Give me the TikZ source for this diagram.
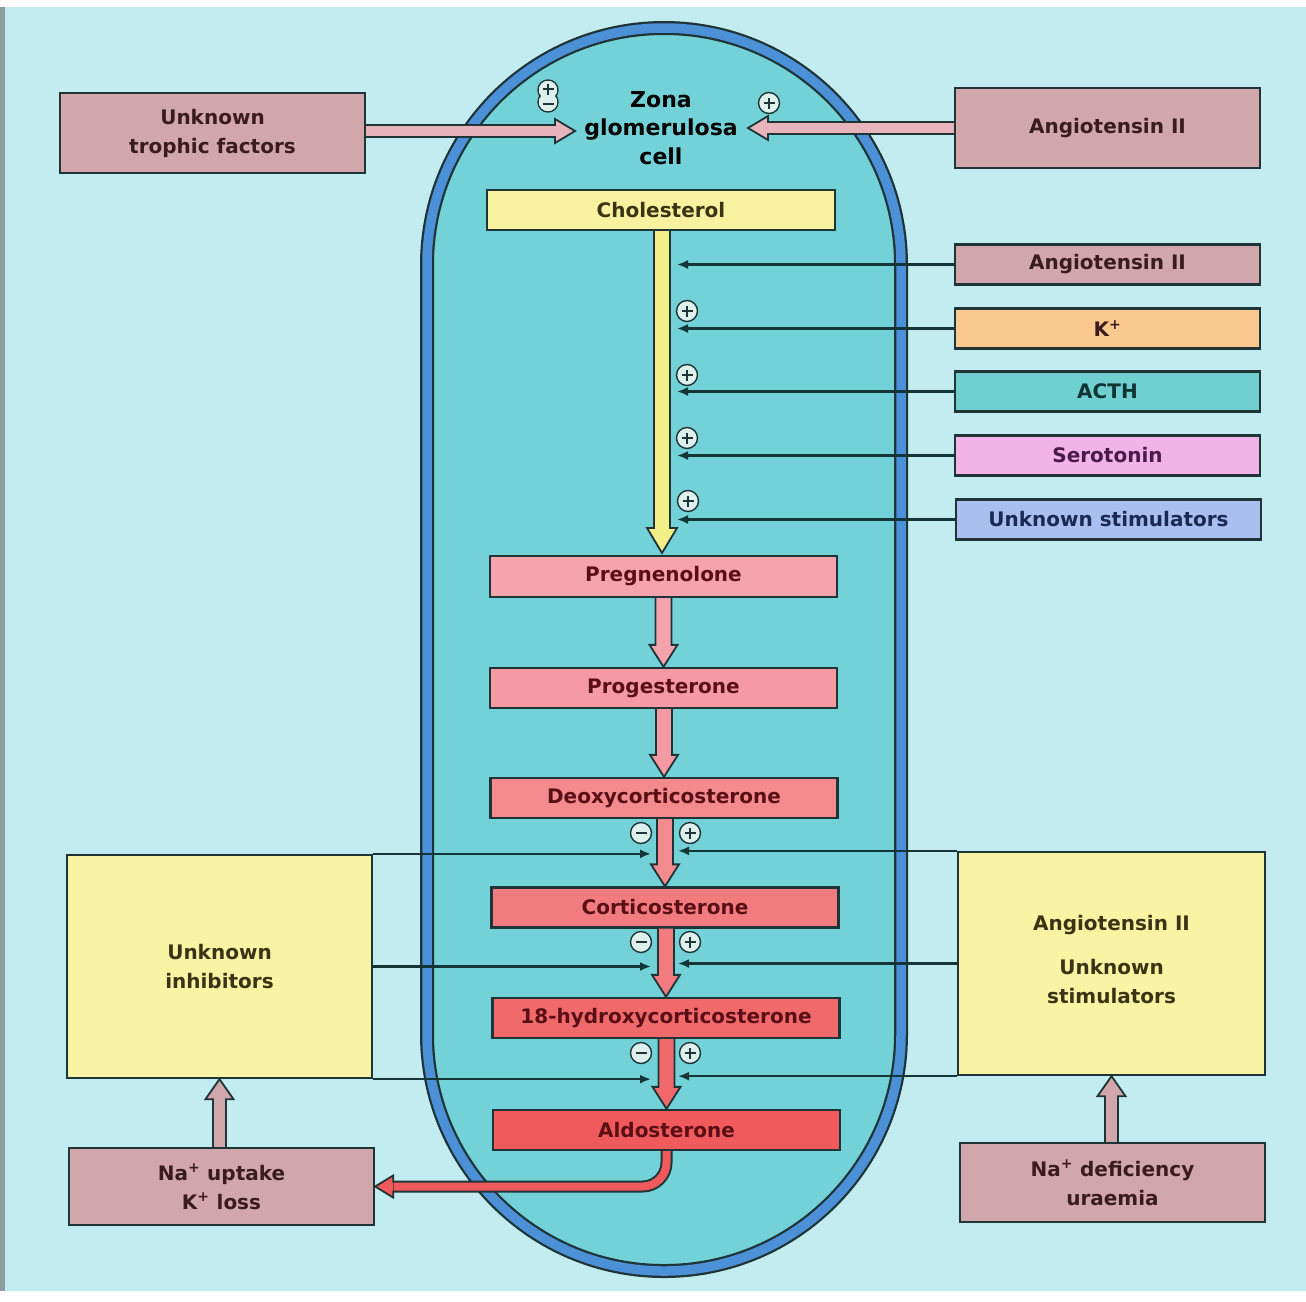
\documentclass[tikz,border=0pt]{standalone}
\usepackage{fontspec}
\setmainfont{DejaVu Sans}
\usetikzlibrary{arrows.meta,calc}

\definecolor{bgc}{HTML}{C2ECF0}
\definecolor{stripc}{HTML}{8E9C9E}
\definecolor{cellc}{HTML}{72D2D7}
\definecolor{membc}{HTML}{4C90D8}
\definecolor{edgec}{HTML}{1E3436}
\definecolor{linec}{HTML}{143636}
\definecolor{signc}{HTML}{DDF0EE}
\definecolor{mauve}{HTML}{D2A7AB}
\definecolor{paleyel}{HTML}{F8F4A4}
\definecolor{cholc}{HTML}{F8F2A0}
\definecolor{yelar}{HTML}{F2EE88}
\definecolor{topar}{HTML}{E8B4BC}
\definecolor{kc}{HTML}{F9C98F}
\definecolor{acthc}{HTML}{6FD0CF}
\definecolor{serc}{HTML}{F2B3E6}
\definecolor{ustc}{HTML}{A9BFF0}
\definecolor{sa}{HTML}{F5A3AC}
\definecolor{sb}{HTML}{F59AA2}
\definecolor{sc}{HTML}{F28A8E}
\definecolor{sd}{HTML}{F17B7E}
\definecolor{se}{HTML}{F06A6C}
\definecolor{sf}{HTML}{F05A5C}
\definecolor{txmauve}{HTML}{3A1C1E}
\definecolor{txyel}{HTML}{3A3414}
\definecolor{txred}{HTML}{5A0F14}
\definecolor{txser}{HTML}{4A1A4A}
\definecolor{txblue}{HTML}{1A2A55}
\definecolor{txteal}{HTML}{0F3434}

% vertical block arrow: fill, from, to, shaft half width, head half width, signed head length
\newcommand\vblock[6]{%
  \draw[blockline, fill=#1] ($(#2 -| #3)+(-#4,0)$) -- ($(#3)+(-#4,#6)$) -- ($(#3)+(-#5,#6)$)
    -- (#3) -- ($(#3)+(#5,#6)$) -- ($(#3)+(#4,#6)$) -- ($(#2 -| #3)+(#4,0)$);}
% horizontal block arrow: same arguments
\newcommand\hblock[6]{%
  \draw[blockline, fill=#1] ($(#2 |- #3)+(0,-#4)$) -- ($(#3)+(#6,-#4)$) -- ($(#3)+(#6,-#5)$)
    -- (#3) -- ($(#3)+(#6,#5)$) -- ($(#3)+(#6,#4)$) -- ($(#2 |- #3)+(0,#4)$);}

\tikzset{
  box/.style={draw=edgec, line width=2.3pt, inner sep=0pt, align=center,
    font=\bfseries\fontsize{20}{29}\selectfont},
  sidebox/.style={box, minimum width=305pt, minimum height=40pt},
  stepbox/.style={box, minimum width=347pt, minimum height=40pt, text=txred},
  bigbox/.style={box, fill=paleyel, text=txyel, minimum height=223pt},
  blockline/.style={draw=edgec, line width=1.8pt, line join=miter},
  sig/.style={draw=linec, line width=2.2pt, -{Latex[length=11pt,width=9pt]}},
  signbase/.style={circle, draw=edgec, line width=1.4pt, fill=signc,
    minimum size=21pt, inner sep=0pt},
  plussign/.style={signbase, path picture={
    \draw[edgec, line width=1.3pt]
      ([xshift=-5.5pt]path picture bounding box.center) -- ([xshift=5.5pt]path picture bounding box.center)
      ([yshift=-5.5pt]path picture bounding box.center) -- ([yshift=5.5pt]path picture bounding box.center);}},
  minussign/.style={signbase, path picture={
    \draw[edgec, line width=1.3pt]
      ([xshift=-5.5pt]path picture bounding box.center) -- ([xshift=5.5pt]path picture bounding box.center);}},
}

\begin{document}
\begin{tikzpicture}[x=1pt,y=-1pt]
\useasboundingbox (0,0) rectangle (1306,1301);
\fill[bgc] (0,0) rectangle (1306,1301);
\fill[white] (0,0) rectangle (1306,7);
\fill[white] (0,1291) rectangle (1306,1301);
\fill[stripc] (0,7) rectangle (5,1291);

% the cell and its membrane
\fill[cellc, rounded corners=236.9pt] (427,28) rectangle (901,1271);
\draw[edgec, line width=14pt, rounded corners=236.9pt] (427,28) rectangle (901,1271);
\draw[membc, line width=9.5pt, rounded corners=236.9pt] (427,28) rectangle (901,1271);

% outer boxes
\node[sidebox, fill=mauve, text=txmauve, minimum height=80pt] (trophic) at (212.5,133) {Unknown\\trophic factors};
\node[sidebox, fill=mauve, text=txmauve, minimum height=80pt] (ang1) at (1107.5,128) {Angiotensin II};
\node[sidebox, fill=mauve, text=txmauve] (angs) at (1107.5,264.5) {Angiotensin II};
\node[sidebox, fill=kc, text=txmauve] (kbox) at (1107.5,328.5) {K\textsuperscript{+}};
\node[sidebox, fill=acthc, text=txteal] (acth) at (1107.5,391.5) {ACTH};
\node[sidebox, fill=serc, text=txser] (sero) at (1107.5,455.5) {Serotonin};
\node[sidebox, fill=ustc, text=txblue] (ustim) at (1108.5,519.5) {Unknown stimulators};
\node[bigbox, minimum width=305pt] (inhib) at (219.5,966.5) {Unknown\\inhibitors};
\node[bigbox, minimum width=307pt] (stim) at (1111.5,963.5) {Angiotensin II\\[15pt]Unknown\\stimulators\\[-21pt]};
\node[sidebox, fill=mauve, text=txmauve, minimum height=77pt] (na) at (221.5,1186.5) {Na\textsuperscript{+} uptake\\K\textsuperscript{+} loss};
\node[sidebox, fill=mauve, text=txmauve, minimum height=79pt] (nadef) at (1112.5,1182.5) {Na\textsuperscript{+} deficiency\\uraemia};

% inside the cell
\node[align=center, font=\bfseries\fontsize{22}{28.5}\selectfont, text=black] (zona) at (661,128) {Zona\\glomerulosa\\cell};
\node[stepbox, fill=cholc, text=txyel, minimum width=348pt] (chol) at (661,210) {Cholesterol};
\node[stepbox, fill=sa, minimum height=41pt] (preg) at (663.5,576.5) {Pregnenolone};
\node[stepbox, fill=sb] (prog) at (663.5,688) {Progesterone};
\node[stepbox, fill=sc] (doc) at (664,798) {Deoxycorticosterone};
\node[stepbox, fill=sd] (cort) at (665,907.5) {Corticosterone};
\node[stepbox, fill=se] (hyd) at (666,1018) {18-hydroxycorticosterone};
\node[stepbox, fill=sf] (ald) at (666.5,1130) {Aldosterone};

% end points of the open connectors
\coordinate (zl) at (575,131);
\coordinate (zr) at (748,128);
\coordinate (ytip) at (662,553);
\coordinate (rx) at (677,0);
\coordinate (lx) at (651,0);
\coordinate (rx2) at (678,0);

% block arrows
\hblock{topar}{trophic.east}{zl}{6}{12}{-20}
\hblock{topar}{ang1.west}{zr}{6}{12}{20}
\vblock{yelar}{chol.south}{ytip}{8}{15}{-25}
\vblock{sa}{preg.south}{prog.north}{8}{14}{-22}
\vblock{sb}{prog.south}{doc.north}{8}{14}{-22}
\vblock{sc}{doc.south}{cort.north}{8}{14}{-22}
\vblock{sd}{cort.south}{hyd.north}{8}{14}{-22}
\vblock{se}{hyd.south}{ald.north}{8}{14}{-22}
\vblock{mauve}{na.north}{inhib.south}{6.5}{14}{20}
\vblock{mauve}{nadef.north}{stim.south}{6.5}{14}{20}

% aldosterone output to the kidney box
\draw[edgec, line width=12pt, rounded corners=24pt] (ald.south) |- ($(na.east)+(18,0)$);
\draw[sf, line width=8pt, rounded corners=24pt] (ald.south) |- ($(na.east)+(18.5,0)$);
\draw[blockline, fill=sf] ($(na.east)+(18,-4)$) -- ($(na.east)+(18,-11)$) -- (na.east)
  -- ($(na.east)+(18,11)$) -- ($(na.east)+(18,4)$);

% stimulator lines to the cholesterol step
\draw[sig] (angs.west) -- (angs.west -| rx);
\draw[sig] (kbox.west) -- (kbox.west -| rx);
\draw[sig] (acth.west) -- (acth.west -| rx);
\draw[sig] (sero.west) -- (sero.west -| rx);
\draw[sig] (ustim.west) -- (ustim.west -| rx);

% inhibitor and stimulator lines to the late steps
\draw[sig] (inhib.north east) -- (inhib.north east -| lx);
\draw[sig] (inhib.east) -- (inhib.east -| lx);
\draw[sig] (inhib.south east) -- (inhib.south east -| lx);
\draw[sig] (stim.north west) -- (stim.north west -| rx2);
\draw[sig] (stim.west) -- (stim.west -| rx2);
\draw[sig] (stim.south west) -- (stim.south west -| rx2);

% signs
\node[plussign] (pk) at (687,311) {};
\node[plussign] (pa) at (687,375) {};
\node[plussign] (ps) at (687,438) {};
\node[plussign] (pu) at (688,501) {};
\node[minussign] (m1) at (641,833) {};
\node[plussign] (p1) at (690,833) {};
\node[minussign] (m2) at (641,942) {};
\node[plussign] (p2) at (690,942) {};
\node[minussign] (m3) at (641,1053) {};
\node[plussign] (p3) at (690,1053) {};
\node[plussign] (pz) at (769,103) {};

% combined plus/minus sign of the trophic factors
\filldraw[draw=edgec, fill=signc, line width=1.4pt] (548,90) circle[radius=10pt] (548,102) circle[radius=10pt];
\fill[signc] (548,90) circle[radius=9.1pt] (548,102) circle[radius=9.1pt];
\draw[edgec, line width=1.3pt] (542.5,89) -- (553.5,89) (548,83.5) -- (548,94.5) (542.5,104) -- (553.5,104);
\end{tikzpicture}
\end{document}
